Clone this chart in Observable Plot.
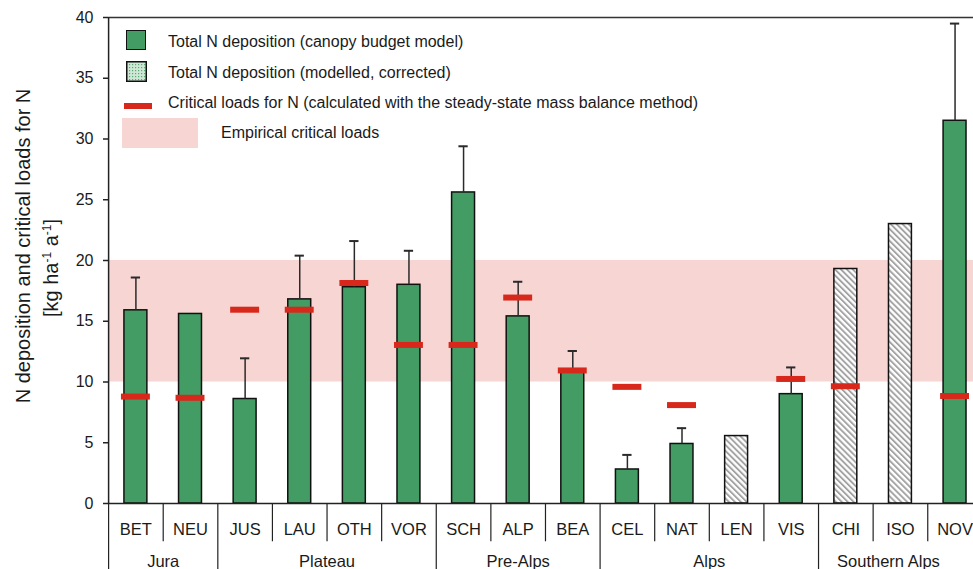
<!DOCTYPE html>
<html>
<head>
<meta charset="utf-8">
<script src="https://cdn.jsdelivr.net/npm/d3@7"></script>
<script src="https://cdn.jsdelivr.net/npm/@observablehq/plot@0.6"></script>
<style>
  html, body { margin: 0; padding: 0; background: #fff; overflow: hidden; }
  #wrap { position: relative; width: 973px; height: 569px; overflow: hidden; font-family: "Liberation Sans", Arial, Helvetica, sans-serif; color: #1a1a1a; }
  #chart svg { display: block; }
  .lg { position: absolute; }
  .lgtext { position: absolute; font-size: 16px; white-space: nowrap; transform: translateY(-50%); line-height: 1; }
  .ytitle { position: absolute; font-size: 20px; white-space: nowrap; line-height: 1; transform: translate(-50%, -50%) rotate(-90deg); }
  .ytitle sup { font-size: 12px; vertical-align: 7px; line-height: 0; }
</style>
</head>
<body>
<div id="wrap">
  <div id="chart"></div>
  <div class="ytitle" style="left:23px; top:246px;">N deposition and critical loads for N</div>
  <div class="ytitle" style="left:51px; top:268px;">[kg ha<sup>-1</sup> a<sup>-1</sup>]</div>

  <div class="lg" style="left:126px; top:30px; width:18px; height:18px; background:#439c63; border:1.5px solid #111;"></div>
  <div class="lgtext" style="left:168px; top:42px;">Total N deposition (canopy budget model)</div>

  <svg class="lg" style="left:126px; top:61px;" width="21" height="21">
    <defs>
      <pattern id="dots" patternUnits="userSpaceOnUse" width="3" height="3">
        <rect width="3" height="3" fill="#cfe8d6"></rect>
        <rect x="0" y="0" width="1.2" height="1.2" fill="#5aa977"></rect>
      </pattern>
    </defs>
    <rect x="0.75" y="0.75" width="19.5" height="19.5" fill="url(#dots)" stroke="#111" stroke-width="1.5"></rect>
  </svg>
  <div class="lgtext" style="left:168px; top:73px;">Total N deposition (modelled, corrected)</div>

  <div class="lg" style="left:124px; top:103px; width:28px; height:6px; background:#d8281c;"></div>
  <div class="lgtext" style="left:168px; top:103px;">Critical loads for N (calculated with the steady-state mass balance method)</div>

  <div class="lg" style="left:122px; top:118px; width:76px; height:30px; background:#f6d5d3;"></div>
  <div class="lgtext" style="left:221px; top:133px;">Empirical critical loads</div>
</div>
<script>
// ---- data ----
const sites = ["BET","NEU","JUS","LAU","OTH","VOR","SCH","ALP","BEA","CEL","NAT","LEN","VIS","CHI","ISO","NOV"];
const regions = ["Jura","Jura","Plateau","Plateau","Plateau","Plateau","Pre-Alps","Pre-Alps","Pre-Alps","Alps","Alps","Alps","Alps","Southern Alps","Southern Alps","Southern Alps"];
const deposition = [15.9, 15.6, 8.6, 16.8, 17.8, 18.0, 25.6, 15.4, 10.85, 2.8, 4.9, 5.55, 9.0, 19.3, 23.0, 31.5];
const modelled = [false,false,false,false,false,false,false,false,false,false,false,true,false,true,true,false];
const errorTop = [18.6, null, 11.95, 20.4, 21.6, 20.8, 29.4, 18.25, 12.55, 4.0, 6.2, null, 11.2, null, null, 39.5];
const criticalLoad = [8.8, 8.7, 15.95, 15.95, 18.15, 13.05, 13.05, 16.95, 10.95, 9.6, 8.1, null, 10.25, 9.65, null, 8.85];
const empiricalRange = [10, 20];
const yTicks = [0, 5, 10, 15, 20, 25, 30, 35, 40];

// ---- build table ----
const rows = sites.map((s, i) => ({
  i, site: s, region: regions[i], dep: deposition[i], mod: modelled[i],
  err: errorTop[i], cl: criticalLoad[i]
}));
const groups = d3.groups(rows, d => d.region).map(([name, items]) => ({
  name, start: items[0].i - 0.5, end: items[items.length - 1].i + 0.5
}));
const n = sites.length;
const groupStarts = new Set(groups.map(g => g.start));
const innerSeps = rows.filter(d => d.i > 0 && !groupStarts.has(d.i - 0.5)).map(d => d.i - 0.5);
const outerSeps = groups.map(g => g.start);
const lastGroup = groups[groups.length - 1];

const halfBar = 0.21, halfCL = 0.265, halfCap = 0.085;

const plot = Plot.plot({
  width: 973,
  height: 569,
  marginLeft: 108,
  marginRight: 0,
  marginTop: 17,
  marginBottom: 66,
  style: { fontFamily: "Liberation Sans, Arial, Helvetica, sans-serif", color: "#1a1a1a", background: "white", overflow: "hidden" },
  x: { type: "linear", domain: [-0.5, n - 0.5], range: [108.1, 108.1 + n * 54.61], axis: null },
  y: { domain: [0, 40] },
  marks: [
    // empirical critical loads band
    Plot.rect([empiricalRange], { x1: -0.5, x2: n - 0.5, y1: d => d[0], y2: d => d[1], fill: "#f6d5d3" }),
    // measured bars
    Plot.rectY(rows.filter(d => !d.mod), { x1: d => d.i - halfBar, x2: d => d.i + halfBar, y1: 0, y2: "dep", fill: "#439c63", stroke: "#111", strokeWidth: 1.5 }),
    // modelled bars (hatched)
    Plot.rectY(rows.filter(d => d.mod), { x1: d => d.i - halfBar, x2: d => d.i + halfBar, y1: 0, y2: "dep", fill: "url(#hatch)", stroke: "#111", strokeWidth: 1.5 }),
    // error bars
    Plot.ruleX(rows.filter(d => d.err != null), { x: "i", y1: "dep", y2: "err", stroke: "#2a2a2a", strokeWidth: 1.5 }),
    Plot.ruleY(rows.filter(d => d.err != null), { y: "err", x1: d => d.i - halfCap, x2: d => d.i + halfCap, stroke: "#2a2a2a", strokeWidth: 2 }),
    // critical loads
    Plot.ruleY(rows.filter(d => d.cl != null), { y: "cl", x1: d => d.i - halfCL, x2: d => d.i + halfCL, stroke: "#d8281c", strokeWidth: 6 }),
    // frame: top and left, baseline
    Plot.ruleY([40], { x1: -0.5, x2: n - 0.5, stroke: "#333", strokeWidth: 1.5 }),
    Plot.ruleY([0], { x1: -0.5, x2: n - 0.5, stroke: "#222", strokeWidth: 1.5 }),
    Plot.ruleX([-0.5], { y1: 0, y2: 40, stroke: "#222", strokeWidth: 1.5 }),
    // category axis separators
    Plot.ruleX(innerSeps, { x: d => d, y1: 0, y2: -3.15, stroke: "#222", strokeWidth: 1.2 }),
    Plot.ruleX(outerSeps, { x: d => d, y1: 0, y2: -6, stroke: "#222", strokeWidth: 1.2 }),
    // y axis
    Plot.axisY({ ticks: yTicks, tickSize: 5, tickPadding: 10, fontSize: 16, label: null, stroke: "#222", strokeWidth: 1.5 }),
    // site labels
    Plot.text(rows, { x: "i", y: 0, text: "site", dy: 26, fontSize: 16.5, fill: "#1a1a1a" }),
    // region labels (last one centred on its visible part)
    Plot.text(groups.filter(g => g !== lastGroup), { x: d => (d.start + d.end) / 2, y: 0, text: "name", dy: 58, fontSize: 16.5, fill: "#1a1a1a" }),
    Plot.text([lastGroup], { x: d => (d.start + d.end) / 2, y: 0, text: "name", dy: 58, dx: -12, fontSize: 16.5, fill: "#1a1a1a" })
  ]
});

// hatch pattern definition
const svgSel = d3.select(plot);
const defs = svgSel.insert("defs", ":first-child");
const pat = defs.append("pattern")
  .attr("id", "hatch")
  .attr("patternUnits", "userSpaceOnUse")
  .attr("width", 4.2)
  .attr("height", 4.2)
  .attr("patternTransform", "rotate(-45)");
pat.append("rect").attr("width", 4.2).attr("height", 4.2).attr("fill", "#ffffff");
pat.append("rect").attr("x", 0).attr("width", 1.9).attr("height", 4.2).attr("fill", "#a3a3a3");

document.getElementById("chart").appendChild(plot);
</script>
</body>
</html>
